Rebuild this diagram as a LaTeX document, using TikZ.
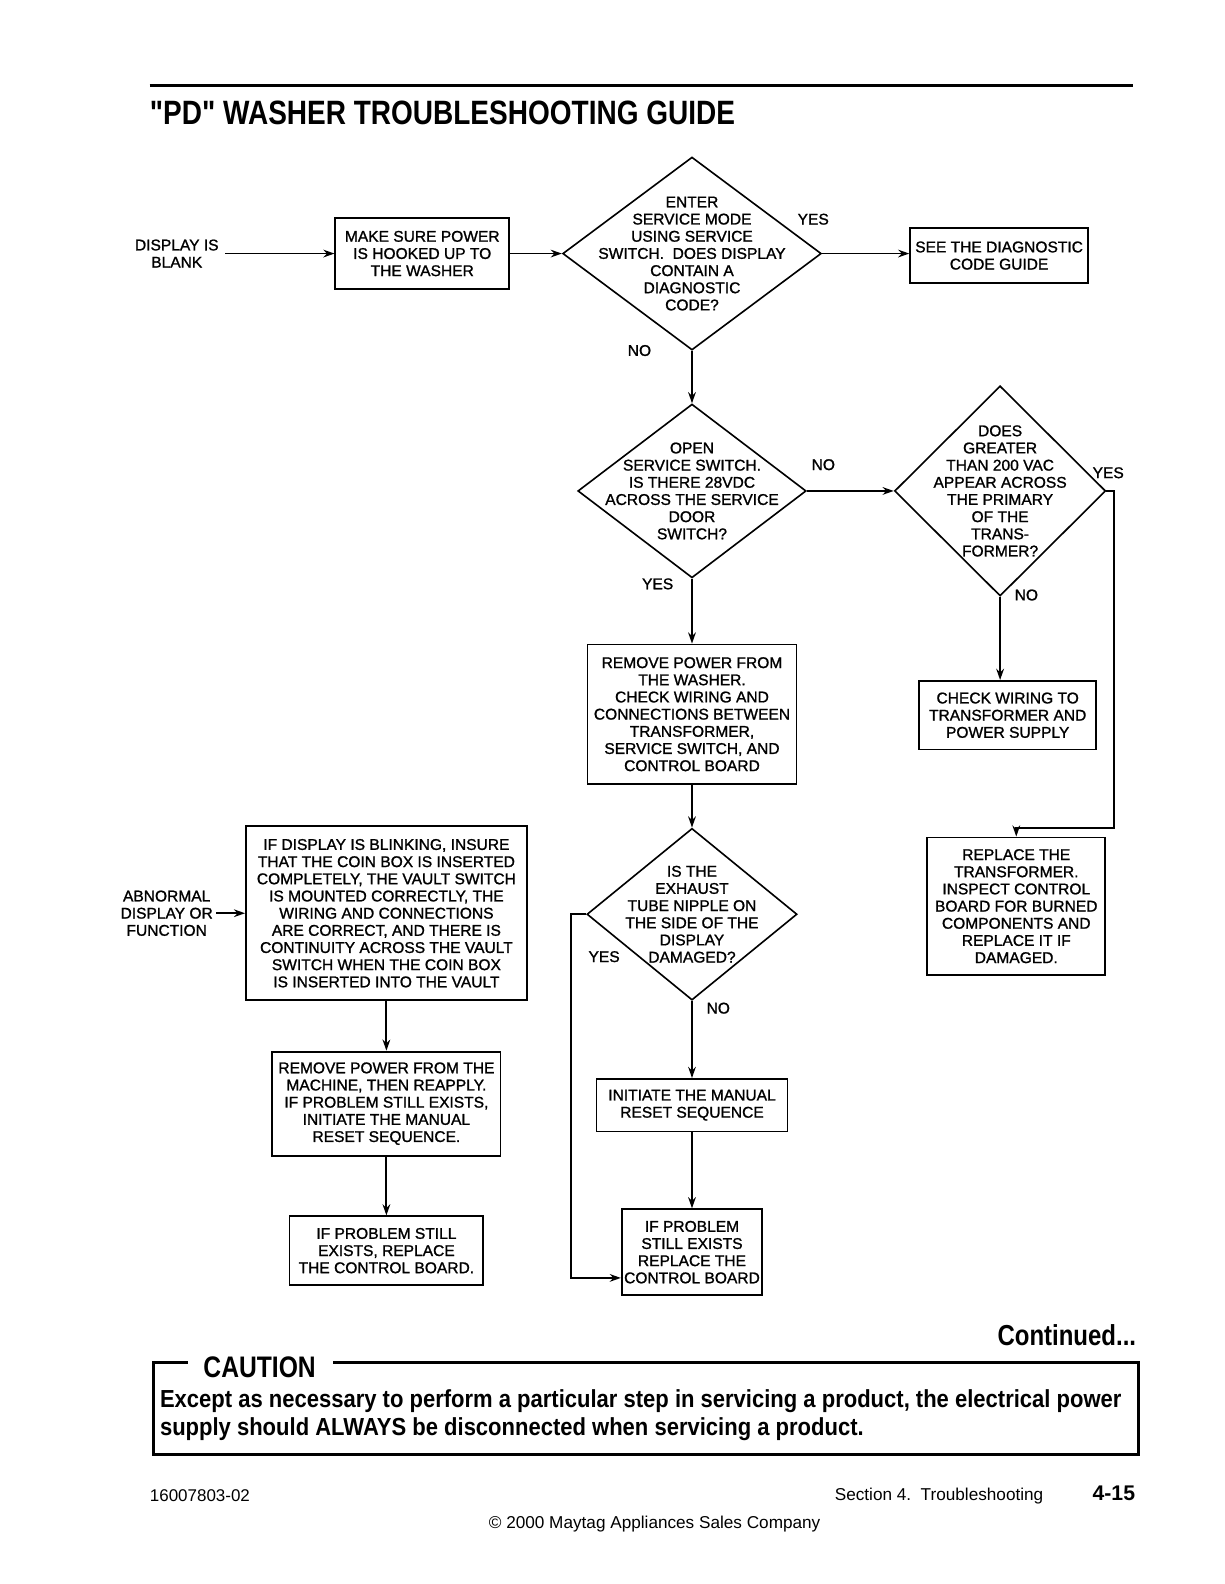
\documentclass[tikz,border=0pt]{standalone}
\usepackage{fontspec}
\setmainfont{Liberation Sans}
\newfontfamily\boxfont[FakeBold=1.2]{Liberation Sans}
\newfontfamily\condfont[FakeStretch=0.83]{Liberation Sans}
\newfontfamily\cautionfont[FakeStretch=0.893]{Liberation Sans}
\usetikzlibrary{shapes.geometric, arrows.meta}
\usetikzlibrary{positioning}
\usetikzlibrary{calc}

\begin{document}
\begin{tikzpicture}[
                x=0.5pt, y=-0.5pt,
                every node/.style={font=\boxfont\fontsize{7.7}{8.5}\selectfont, align=center, inner sep=1pt},
                box/.style={draw, line width=0.9pt},
                dia/.style={draw, diamond, line width=0.8pt, inner sep=0pt},
                link/.style={line width=0.9pt, -{Stealth[length=5.5pt,width=3.8pt]}}
            ]
            \useasboundingbox (0,0) rectangle (1212,1568);

            % Header
            \draw[line width=1.5pt] (148,85) -- (1122,85);
            \node[anchor=base west, inner sep=0pt, font=\condfont\bfseries\fontsize{16.7}{18}\selectfont] (title) at (148,123) {"PD" WASHER TROUBLESHOOTING GUIDE};

            % Define nodes
            \node[inner sep=3pt] (blank) at (175,251) {DISPLAY IS\\BLANK};
            \node[box, minimum width=86pt, minimum height=35pt] (power) at (418,251) {MAKE SURE POWER\\IS HOOKED UP TO\\THE WASHER};
            \node[dia, minimum width=128pt, minimum height=95.5pt,
                label={center:{ENTER\\SERVICE MODE\\USING SERVICE\\SWITCH.\ \ DOES DISPLAY\\CONTAIN A\\DIAGNOSTIC\\CODE?}}] (service) at (685,251) {};
            \node[box, minimum width=88pt, minimum height=27pt] (codeguide) at (989,253) {SEE THE DIAGNOSTIC\\CODE GUIDE};

            \node[dia, minimum width=113pt, minimum height=86pt,
                label={center:{OPEN\\SERVICE SWITCH.\\IS THERE 28VDC\\ACROSS THE SERVICE\\DOOR\\SWITCH?}}] (doorsw) at (685,486) {};
            \node[dia, minimum width=104.5pt, minimum height=104pt,
                label={center:{DOES\\GREATER\\THAN 200 VAC\\APPEAR ACROSS\\THE PRIMARY\\OF THE\\TRANS-\\FORMER?}}] (primary) at (990,486) {};

            \node[box, minimum width=103.5pt, minimum height=69pt] (checkwire) at (685,707) {REMOVE POWER FROM\\THE WASHER.\\CHECK WIRING AND\\CONNECTIONS BETWEEN\\TRANSFORMER,\\SERVICE SWITCH, AND\\CONTROL BOARD};
            \node[box, minimum width=87.5pt, minimum height=34pt] (wiretrans) at (997.5,708) {CHECK WIRING TO\\TRANSFORMER AND\\POWER SUPPLY};
            \node[box, minimum width=88pt, minimum height=68pt] (replacetr) at (1006,897) {REPLACE THE\\TRANSFORMER.\\INSPECT CONTROL\\BOARD FOR BURNED\\COMPONENTS AND\\REPLACE IT IF\\DAMAGED.};

            \node[dia, minimum width=104pt, minimum height=85pt,
                label={center:{IS THE\\EXHAUST\\TUBE NIPPLE ON\\THE SIDE OF THE\\DISPLAY\\DAMAGED?}}] (exhaust) at (685,905) {};
            \node[box, minimum width=94.5pt, minimum height=26pt] (reset) at (685,1094) {INITIATE THE MANUAL\\RESET SEQUENCE};
            \node[box, minimum width=69.5pt, minimum height=42.5pt] (replacecb) at (685,1239.5) {IF PROBLEM\\STILL EXISTS\\REPLACE THE\\CONTROL BOARD};

            \node[inner sep=1.5pt] (abnormal) at (165,904) {ABNORMAL\\DISPLAY OR\\FUNCTION};
            \node[box, minimum width=139pt, minimum height=86pt] (blinking) at (382.5,904) {IF DISPLAY IS BLINKING, INSURE\\THAT THE COIN BOX IS INSERTED\\COMPLETELY, THE VAULT SWITCH\\IS MOUNTED CORRECTLY, THE\\WIRING AND CONNECTIONS\\ARE CORRECT, AND THERE IS\\CONTINUITY ACROSS THE VAULT\\SWITCH WHEN THE COIN BOX\\IS INSERTED INTO THE VAULT};
            \node[box, minimum width=113pt, minimum height=51.5pt] (reapply) at (382.5,1092.5) {REMOVE POWER FROM THE\\MACHINE, THEN REAPPLY.\\IF PROBLEM STILL EXISTS,\\INITIATE THE MANUAL\\RESET SEQUENCE.};
            \node[box, minimum width=96pt, minimum height=34pt] (stillexists) at (382.5,1238) {IF PROBLEM STILL\\EXISTS, REPLACE\\THE CONTROL BOARD.};

            % Answers
            \node (yes1) at (805,217) {YES};
            \node (no1) at (633,347) {NO};
            \node (no2) at (815,460) {NO};
            \node (yes2) at (651,578) {YES};
            \node (yes3) at (1097,468) {YES};
            \node (no3) at (1016,589) {NO};
            \node (yes4) at (598,947) {YES};
            \node (no4) at (711,998) {NO};

            \coordinate (trcorner) at (1103,820);
            \coordinate (yescorner) at (565,1265);

            % Arrows connecting boxes
            \draw[link] (blank) -- (power);
            \draw[link] (power) -- (service);
            \draw[link] (service.east) -- (service.east -| codeguide.west);
            \draw[link] (service) -- (doorsw);
            \draw[link] (doorsw) -- (primary);
            \draw[link] (doorsw) -- (checkwire);
            \draw[link] (primary.south) -- (primary.south |- wiretrans.north);
            \draw[link] (primary.east) -| (trcorner) -| (replacetr.north);
            \draw[link] (checkwire) -- (exhaust);
            \draw[link] (exhaust.west) -| (yescorner) -- (yescorner -| replacecb.west);
            \draw[link] (exhaust) -- (reset);
            \draw[link] (reset) -- (replacecb);
            \draw[link] (abnormal) -- (blinking);
            \draw[link] (blinking) -- (reapply);
            \draw[link] (reapply) -- (stillexists);

            % Caution frame
            \node[anchor=base east, inner sep=0pt, font=\condfont\bfseries\fontsize{14.3}{16}\selectfont] (continued) at (1125,1332) {Continued...};
            \draw[line width=1.4pt] (186,1349) -- (152,1349) -- (152,1440) -- (1127,1440) -- (1127,1349) -- (330,1349);
            \node[anchor=base west, inner sep=0pt, font=\condfont\bfseries\fontsize{14.7}{16}\selectfont] (caution) at (201,1364) {CAUTION};
            \node[anchor=base west, inner sep=0pt, font=\cautionfont\bfseries\fontsize{12.2}{14}\selectfont] (warn1) at (158,1393) {Except as necessary to perform a particular step in servicing a product, the electrical power};
            \node[anchor=base west, inner sep=0pt, font=\cautionfont\bfseries\fontsize{12.2}{14}\selectfont] (warn2) at (158,1421) {supply should ALWAYS be disconnected when servicing a product.};

            % Footer
            \node[anchor=base west, inner sep=0pt, font=\rmfamily\fontsize{8.4}{10}\selectfont] (partno) at (148,1486) {16007803-02};
            \node[anchor=base west, inner sep=0pt, font=\rmfamily\fontsize{8.5}{10}\selectfont] (section) at (826,1485) {Section 4.\ \ Troubleshooting};
            \node[anchor=base east, inner sep=0pt, font=\rmfamily\bfseries\fontsize{10.5}{12}\selectfont] (pageno) at (1124,1485) {4-15};
            \node[anchor=base, inner sep=0pt, font=\rmfamily\fontsize{8.5}{10}\selectfont] (copyright) at (648,1513) {© 2000 Maytag Appliances Sales Company};

        \end{tikzpicture}
\end{document}
